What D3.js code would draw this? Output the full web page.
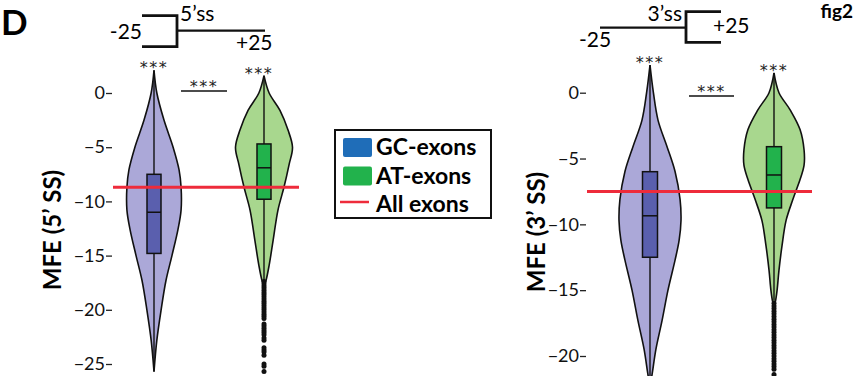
<!doctype html>
<html lang="en">

<head>
  <meta charset="utf-8">
  <script src="https://d3js.org/d3.v7.min.js"></script>
  <style>
    body { margin: 0; background: #fff; }
    text { font-family: Lato, "Open Sans", sans-serif; }
  </style>
</head>

<body>
  <script>
    var width = 859,
        height = 376;

    // groups
    var groups = ["GC-exons", "AT-exons"];
    var groupFill = ["#aba8d8", "#a8d78e"];
    var boxFill = ["#5a5fae", "#22b24c"];

    // 5'ss panel -- violin outlines as [MFE, relative density]
    var ticks5 = [0, -5, -10, -15, -20, -25];
    var gc5Density = [[2.1, 0], [0, 0.1], [-2.5, 0.35], [-5, 0.67], [-7.1, 0.88], [-8.7, 0.95],
                      [-10.8, 0.95], [-12.6, 0.84], [-15, 0.63], [-17.3, 0.42], [-20, 0.25],
                      [-22.8, 0.1], [-25.7, 0]];
    var at5Density = [[1.6, 0], [0, 0.18], [-1.6, 0.56], [-3.4, 0.84], [-5, 1], [-6.6, 0.88],
                      [-8.7, 0.7], [-10.8, 0.49], [-13.6, 0.32], [-15.9, 0.18], [-17.3, 0.07],
                      [-17.8, 0]];
    // [upper whisker, q3, median, q1, lower whisker]
    var gc5Box = [2.1, -7.5, -11, -14.8, -25.7];
    var at5Box = [1.6, -4.7, -6.9, -9.8, -17.3];
    var at5Outliers = [-17.4, -17.6, -17.8, -18, -18.2, -18.4, -18.6, -18.8, -19, -19.2, -19.4,
                       -19.6, -19.8, -20, -20.2, -20.4, -20.6, -20.8, -21.3, -21.5, -21.7, -21.9,
                       -22.1, -22.3, -22.6, -22.8, -23.5, -23.7, -23.9, -24.2, -25.0, -25.2, -25.7];
    var all5 = -8.7;

    // 3'ss panel
    var ticks3 = [0, -5, -10, -15, -20];
    var gc3Density = [[2.1, 0], [0, 0.11], [-2.1, 0.26], [-4.1, 0.55], [-6, 0.81], [-8.1, 0.97],
                      [-9.7, 1], [-11.2, 0.94], [-12.7, 0.81], [-15, 0.58], [-17.3, 0.39],
                      [-19.5, 0.19], [-21.5, 0.06], [-22.2, 0]];
    var at3Density = [[1.5, 0], [0, 0.16], [-1.3, 0.52], [-2.8, 0.84], [-4.35, 0.97], [-5.5, 0.97],
                      [-6.6, 0.84], [-8.1, 0.61], [-9.7, 0.39], [-11.6, 0.26], [-13.5, 0.16],
                      [-15, 0.1], [-15.8, 0.05], [-16.2, 0]];
    var gc3Box = [2.1, -6, -9.35, -12.5, -22.2];
    var at3Box = [1.5, -4.1, -6.25, -8.75, -15.8];
    var at3Outliers = [-16, -16.2, -16.4, -16.6, -16.8, -17, -17.2, -17.4, -17.6, -17.8, -18,
                       -18.2, -18.4, -18.6, -18.8, -19, -19.2, -19.4, -19.6, -19.8, -20, -20.2,
                       -20.4, -20.6, -20.8, -21, -21.4, -21.6, -21.8];
    var all3 = -7.5;

    var svg = d3.select("body").append("svg")
        .attr("width", width)
        .attr("height", height);

    function stars(sel, x, y) {
      sel.append("text")
          .attr("x", x).attr("y", y)
          .attr("text-anchor", "middle")
          .style("font-family", "DejaVu Sans")
          .style("font-size", "16px")
          .style("letter-spacing", "1.5px")
          .attr("fill", "#222")
          .text("***");
    }

    function drawPanel(p) {
      var g = svg.append("g");
      var y = d3.scaleLinear().domain(p.yDomain).range(p.yRange);
      var x = d3.scalePoint().domain(groups).range(p.xRange);
      var w = d3.scaleLinear().domain([0, 1]).range([0, p.halfWidth]);

      // axis
      var axis = g.append("g")
          .attr("transform", "translate(" + p.axisX + ",0)")
          .call(d3.axisLeft(y).tickValues(p.ticks).tickSize(6).tickPadding(1)
                .tickFormat(d3.format("d")));
      axis.select(".domain").remove();
      axis.selectAll("text").style("font-size", "18px").style("font-family", "Lato").attr("fill", "#111");
      axis.selectAll("line").attr("stroke", "#222").attr("stroke-width", 1.3);

      g.append("text")
          .attr("transform", "translate(" + p.labelX + "," + p.labelY + ") rotate(-90)")
          .attr("text-anchor", "middle")
          .style("font-size", "24px").style("font-weight", "bold")
          .text(p.label);

      var area = d3.area()
          .curve(d3.curveCatmullRom)
          .y(function(d) { return y(d[0]); });

      p.density.forEach(function(dens, i) {
        var cx = x(groups[i]);
        var b = p.box[i];
        g.append("path")
            .datum(dens)
            .attr("d", area.x0(function(d) { return cx - w(d[1]); })
                           .x1(function(d) { return cx + w(d[1]); }))
            .attr("fill", groupFill[i])
            .attr("stroke", "#111")
            .attr("stroke-width", 1.6);
        g.append("line")
            .attr("x1", cx).attr("x2", cx)
            .attr("y1", y(b[0])).attr("y2", y(b[4]))
            .attr("stroke", "#111").attr("stroke-width", 1.4);
        g.append("rect")
            .attr("x", cx - p.boxWidth / 2).attr("width", p.boxWidth)
            .attr("y", y(b[1])).attr("height", y(b[3]) - y(b[1]))
            .attr("fill", boxFill[i])
            .attr("stroke", "#111").attr("stroke-width", 1.5);
        g.append("line")
            .attr("x1", cx - p.boxWidth / 2).attr("x2", cx + p.boxWidth / 2)
            .attr("y1", y(b[2])).attr("y2", y(b[2]))
            .attr("stroke", "#111").attr("stroke-width", 1.5);
        stars(g, cx + p.starShift[i], y(b[0]) + 3);
      });

      g.selectAll(".outlier")
          .data(p.outliers)
        .enter().append("circle")
          .attr("cx", x(groups[1]))
          .attr("cy", function(d) { return y(d); })
          .attr("r", 2.5)
          .attr("fill", "#111");

      // all exons line
      g.append("line")
          .attr("x1", p.redX[0]).attr("x2", p.redX[1])
          .attr("y1", y(p.all)).attr("y2", y(p.all))
          .attr("stroke", "#ee2b3b").attr("stroke-width", 3);

      // between group significance
      g.append("line")
          .attr("x1", p.sigLine[0]).attr("x2", p.sigLine[1])
          .attr("y1", p.sigLine[2]).attr("y2", p.sigLine[2])
          .attr("stroke", "#111").attr("stroke-width", 1.6);
      stars(g, (p.sigLine[0] + p.sigLine[1]) / 2, p.sigLine[2] + 1);
    }

    drawPanel({
      yDomain: [0, -25], yRange: [93, 364], xRange: [154, 264], halfWidth: 28.5,
      axisX: 112, ticks: ticks5, label: "MFE (5\u2019 SS)", labelX: 61, labelY: 230,
      density: [gc5Density, at5Density], box: [gc5Box, at5Box], boxWidth: 14,
      outliers: at5Outliers, all: all5, redX: [113, 299], sigLine: [181, 227, 91],
      starShift: [0, -5]
    });

    drawPanel({
      yDomain: [0, -20], yRange: [92.7, 356], xRange: [650, 774], halfWidth: 31,
      axisX: 586, ticks: ticks3, label: "MFE (3\u2019 SS)", labelX: 545, labelY: 232,
      density: [gc3Density, at3Density], box: [gc3Box, at3Box], boxWidth: 15,
      outliers: at3Outliers, all: all3, redX: [587, 812], sigLine: [689, 734, 96],
      starShift: [0, 0]
    });

    // panel letter and fig label
    svg.append("text").attr("x", 1).attr("y", 35)
        .style("font-size", "35px").style("font-weight", "bold").text("D");
    svg.append("text").attr("x", 853).attr("y", 18).attr("text-anchor", "end")
        .style("font-size", "19px").style("font-weight", "bold").text("fig2");

    // splice site sketches
    var sketch = svg.append("g").attr("fill", "none").attr("stroke", "#111");
    sketch.append("path").attr("d", "M142,15.7H177V46.7H142").attr("stroke-width", 2.8);
    sketch.append("path").attr("d", "M177,30.7H265").attr("stroke-width", 2.2);
    sketch.append("path").attr("d", "M721,11.7H686V42.3H721").attr("stroke-width", 2.8);
    sketch.append("path").attr("d", "M600,27.7H686").attr("stroke-width", 2.2);

    var sketchText = [
      { t: "-25", x: 142, y: 39, a: "end" },
      { t: "5\u2019ss", x: 180, y: 21, a: "start" },
      { t: "+25", x: 236, y: 50, a: "start" },
      { t: "3\u2019ss", x: 682, y: 21, a: "end" },
      { t: "-25", x: 579, y: 47, a: "start" },
      { t: "+25", x: 713, y: 33, a: "start" }
    ];
    svg.selectAll(".sk")
        .data(sketchText)
      .enter().append("text")
        .attr("x", function(d) { return d.x; })
        .attr("y", function(d) { return d.y; })
        .attr("text-anchor", function(d) { return d.a; })
        .style("font-size", "21px")
        .text(function(d) { return d.t; });

    // legend
    var legend = svg.append("g");
    legend.append("rect").attr("x", 335).attr("y", 130).attr("width", 156).attr("height", 88)
        .attr("fill", "#fff").attr("stroke", "#111").attr("stroke-width", 2);
    var legendItems = ["GC-exons", "AT-exons", "All exons"];
    var legendColor = ["#1f6db8", "#22b24c", "#ee2b3b"];
    legendItems.forEach(function(t, i) {
      var yy = 138 + i * 28.5;
      if (i < 2) {
        legend.append("rect").attr("x", 343).attr("y", yy).attr("width", 29).attr("height", 19)
            .attr("rx", 2).attr("fill", legendColor[i]);
      } else {
        legend.append("line").attr("x1", 340).attr("x2", 369).attr("y1", 202).attr("y2", 202)
            .attr("stroke", legendColor[i]).attr("stroke-width", 2.5);
      }
      legend.append("text").attr("x", 376).attr("y", yy + 17)
          .style("font-size", "23px").style("font-weight", "bold")
          .text(t);
    });
  </script>
</body>
</html>
